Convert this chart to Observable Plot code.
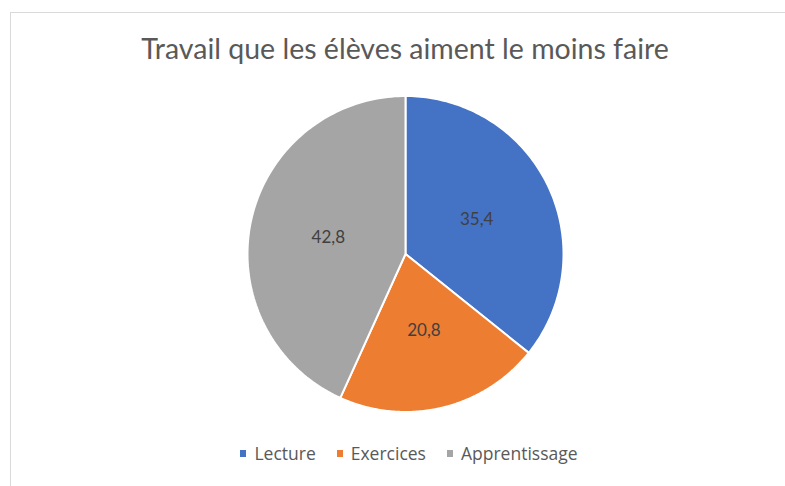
<!DOCTYPE html>
<html>
<head>
<meta charset="utf-8">
<script src="https://cdn.jsdelivr.net/npm/d3@7"></script>
<script src="https://cdn.jsdelivr.net/npm/@observablehq/plot@0.6"></script>
<style>
  html, body { margin: 0; padding: 0; background: #fff; }
  #wrap { position: relative; width: 785px; height: 486px; overflow: hidden; background: #fff; }
  #frame { position: absolute; left: 10px; top: 12px; width: 800px; height: 500px;
           border-top: 1px solid #d9d9d9; border-left: 1px solid #d9d9d9; }
  #title { position: absolute; left: 0; top: 0; width: 810px; height: 80px; text-align: center;
           font-family: Lato, sans-serif; font-size: 28.5px; color: #595959; line-height: 1; }
  #title span { position: relative; top: 34px; }
  #chart { position: absolute; left: 0; top: 80px; }
  #legend { position: absolute; left: 0; top: 420px; width: 818px; height: 66px;
            display: flex; justify-content: center; align-items: center; gap: 21px;
            font-family: "Open Sans", sans-serif; font-size: 17.5px; color: #595959; }
  .item { display: flex; align-items: center; gap: 8px; }
  .sw { width: 6px; height: 7px; display: inline-block; }
</style>
</head>
<body>
<div id="wrap">
  <div id="frame"></div>
  <div id="title"><span></span></div>
  <div id="chart"></div>
  <div id="legend"></div>
</div>
<script>
const title = "Travail que les élèves aiment le moins faire";
const categories = ["Lecture", "Exercices", "Apprentissage"];
const values = [35.4, 20.8, 42.8];
const valueLabels = ["35,4", "20,8", "42,8"];
const colors = ["#4472C4", "#ED7D31", "#A5A5A5"];

document.querySelector("#title span").textContent = title;

const arcs = d3.pie().sort(null).value(d => d)(values);
const rows = [];
arcs.forEach((a, i) => {
  const cat = categories[i];
  rows.push({cat, x: 0, y: 0});
  const n = 120;
  for (let k = 0; k <= n; k++) {
    const t = a.startAngle + (a.endAngle - a.startAngle) * k / n;
    rows.push({cat, x: Math.sin(t), y: Math.cos(t)});
  }
  rows.push({cat, x: 0, y: 0});
});
const labelRows = arcs.map((a, i) => {
  const m = (a.startAngle + a.endAngle) / 2;
  return {cat: categories[i], label: valueLabels[i], x: 0.5 * Math.sin(m), y: 0.5 * Math.cos(m)};
});

const W = 785, H = 340, cx = 405, cy = 173.5, R = 158;
const chart = Plot.plot({
  width: W,
  height: H,
  marginLeft: cx - R,
  marginRight: W - (cx + R),
  marginTop: cy - R,
  marginBottom: H - (cy + R),
  x: {domain: [-1, 1], axis: null},
  y: {domain: [-1, 1], axis: null},
  color: {domain: categories, range: colors},
  style: {background: "transparent", overflow: "visible"},
  marks: [
    Plot.line(rows, {x: "x", y: "y", z: "cat", fill: "cat", stroke: "white", strokeWidth: 2, curve: "linear", strokeLinejoin: "round"}),
    Plot.text(labelRows, {x: "x", y: "y", text: "label", fill: "#404040", fontSize: 17, fontFamily: "Lato, sans-serif"})
  ]
});
document.getElementById("chart").appendChild(chart);

const legend = document.getElementById("legend");
categories.forEach((c, i) => {
  const item = document.createElement("div");
  item.className = "item";
  const sw = document.createElement("span");
  sw.className = "sw";
  sw.style.background = colors[i];
  const tx = document.createElement("span");
  tx.textContent = c;
  item.appendChild(sw);
  item.appendChild(tx);
  legend.appendChild(item);
});
</script>
</body>
</html>
